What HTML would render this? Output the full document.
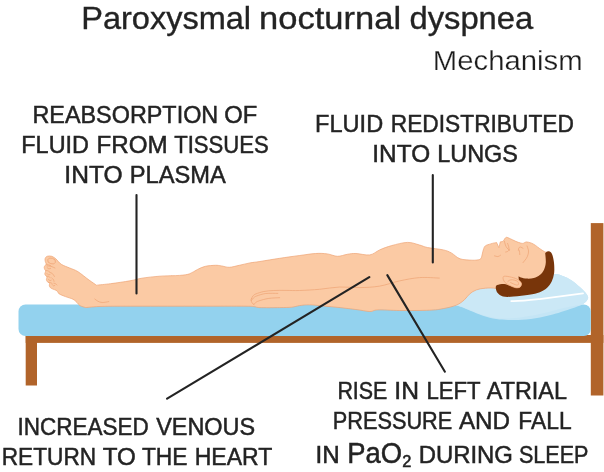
<!DOCTYPE html>
<html>
<head>
<meta charset="utf-8">
<title>Paroxysmal nocturnal dyspnea</title>
<style>
html,body{margin:0;padding:0;background:#fff;}
body{width:604px;height:472px;overflow:hidden;font-family:"Liberation Sans",sans-serif;}
svg{display:block;}
text{filter:grayscale(1);}
text{font-family:"Liberation Sans",sans-serif;fill:#232323;stroke:#232323;stroke-width:0.5;stroke-linejoin:miter;}
</style>
</head>
<body>
<svg width="604" height="472" viewBox="0 0 604 472">
<rect width="604" height="472" fill="#fff"/>

<!-- bed frame -->
<g fill="#b1642a">
<rect x="25.7" y="335" width="577.7" height="7.9"/>
<rect x="25.7" y="335" width="11.3" height="50.5"/>
<rect x="590.8" y="223.1" width="12.6" height="172.4"/>
</g>
<!-- mattress -->
<rect x="18.5" y="304.5" width="572.3" height="31.6" rx="7" ry="7" fill="#93d2ee"/>

<!-- pillow -->
<path d="M452.0,308.0 C453.7,306.7 458.0,303.0 462.0,300.0 C466.0,297.0 469.7,292.8 476.0,290.0 C482.3,287.2 491.0,285.2 500.0,283.0 C509.0,280.8 521.0,278.5 530.0,277.0 C539.0,275.5 548.6,274.1 554.1,273.9 C559.6,273.7 560.0,274.9 562.9,276.0 C565.8,277.1 568.6,278.4 571.4,280.2 C574.2,282.0 577.6,285.0 579.9,287.0 C582.2,289.0 583.7,290.5 585.0,292.1 C586.3,293.7 587.4,295.2 587.9,296.4 C588.4,297.6 588.2,298.3 587.7,299.3 C587.2,300.3 586.2,301.7 585.1,302.6 C584.0,303.5 583.3,304.0 581.2,304.9 C579.1,305.8 575.7,307.1 572.6,308.2 C569.5,309.3 565.4,310.6 562.6,311.5 C559.8,312.4 559.8,312.5 556.0,313.5 C552.2,314.5 545.7,316.3 540.0,317.4 C534.3,318.4 527.3,319.4 522.0,319.8 C516.7,320.2 512.3,320.0 508.0,319.9 C503.7,319.8 500.4,319.7 496.2,319.0 C492.0,318.3 487.4,317.1 483.0,315.7 C478.6,314.3 474.0,312.0 469.7,310.4 C465.4,308.8 460.1,306.2 457.2,305.8 C454.2,305.4 452.9,307.6 452.0,308.0 Z" fill="#c4e5f5"/>
<path d="M452.0,307.0 C453.7,305.8 458.0,302.8 462.0,300.0 C466.0,297.2 469.7,292.8 476.0,290.0 C482.3,287.2 491.0,285.2 500.0,283.0 C509.0,280.8 521.0,278.5 530.0,277.0 C539.0,275.5 548.6,274.1 554.1,273.9 C559.6,273.7 560.0,274.9 562.9,276.0 C565.8,277.1 568.6,278.4 571.4,280.2 C574.2,282.0 577.6,285.0 579.9,287.0 C582.2,289.0 583.7,290.5 585.0,292.1 C586.3,293.7 587.4,295.2 587.9,296.4 C588.4,297.6 588.2,298.3 587.7,299.3 C587.2,300.3 586.2,301.7 585.1,302.6 C584.0,303.5 582.7,304.4 581.2,304.9 C579.7,305.4 578.5,305.2 575.9,305.6 C573.3,306.1 569.2,306.9 565.9,307.6 C562.6,308.3 560.3,308.8 556.0,309.9 C551.7,311.0 545.7,312.8 540.0,314.0 C534.3,315.2 527.3,316.5 522.0,317.2 C516.7,317.9 512.3,318.3 508.0,318.4 C503.7,318.5 500.4,318.6 496.2,318.0 C492.0,317.4 487.4,316.4 483.0,315.0 C478.6,313.6 474.0,311.5 469.7,309.9 C465.4,308.3 460.1,305.9 457.2,305.4 C454.2,304.9 452.9,306.7 452.0,307.0 Z" fill="#cbe8f6"/>
<path d="M511.3,301.1 C520,301.4 530,300.2 539.5,299.1 C553,297.4 567,295.6 583,293.4" fill="none" stroke="#fff" stroke-width="1.8" stroke-linecap="round"/>

<!-- body -->
<path d="M45.6,257.6 C46.0,257.0 46.5,256.4 47.5,256.2 C48.5,256.0 50.4,255.8 51.8,256.3 C53.2,256.8 54.4,257.7 56.0,259.0 C57.6,260.3 59.0,262.8 61.3,264.3 C63.6,265.8 66.9,266.8 69.7,268.0 C72.5,269.2 74.8,269.7 78.0,271.7 C81.2,273.7 85.9,277.8 89.0,280.0 C92.1,282.2 95.2,284.3 96.4,285.2 C98.8,284.9 104.9,284.4 110.5,283.7 C116.1,283.0 124.8,281.7 130.0,280.8 C135.2,279.9 136.9,279.0 141.9,278.2 C146.9,277.4 153.5,276.7 159.8,276.2 C166.1,275.7 174.7,275.8 179.7,275.4 C184.7,275.0 186.6,274.8 189.6,273.8 C192.6,272.8 194.9,270.6 197.6,269.4 C200.2,268.1 202.5,267.0 205.5,266.3 C208.5,265.6 212.8,265.4 215.4,265.3 C218.1,265.2 219.1,265.6 221.4,265.9 C223.7,266.2 226.3,267.4 229.3,267.3 C232.3,267.2 235.9,266.0 239.3,265.3 C242.8,264.6 246.6,263.5 250.0,262.9 C253.4,262.3 254.9,262.3 259.9,261.5 C264.8,260.7 273.1,259.3 279.7,258.3 C286.3,257.3 293.6,256.3 299.6,255.5 C305.6,254.7 310.9,253.8 315.5,253.5 C320.1,253.2 323.8,253.4 327.4,253.9 C331.0,254.4 334.1,256.2 337.4,256.3 C340.7,256.4 344.2,254.8 347.3,254.3 C350.4,253.8 352.1,253.4 355.9,253.5 C359.6,253.6 365.8,255.5 369.8,254.9 C373.8,254.3 376.1,251.5 379.7,249.9 C383.3,248.3 387.0,246.8 391.7,245.6 C396.4,244.3 403.0,242.5 407.6,242.4 C412.2,242.3 416.2,244.2 419.5,245.0 C422.8,245.8 423.4,246.7 427.4,247.5 C431.4,248.3 439.3,249.0 443.3,249.9 C447.3,250.8 448.5,251.4 451.3,252.9 C454.1,254.4 456.6,257.6 460.0,258.8 C463.4,260.0 468.8,260.0 471.9,260.2 C475.0,260.4 477.7,259.9 478.9,259.8 C479.3,259.5 480.6,259.4 481.3,257.8 C482.0,256.2 482.6,251.9 483.3,249.9 C484.0,247.9 484.1,246.9 485.3,245.9 C486.5,244.9 489.1,244.4 490.6,243.9 C492.1,243.4 493.5,243.1 494.5,242.9 C495.5,242.7 496.2,242.6 496.6,242.5 C497.0,243.3 498.5,246.8 498.9,247.6 C499.1,246.7 500.1,242.8 500.3,241.9 C500.6,241.8 501.6,241.8 502.2,241.6 C502.8,241.3 503.4,240.9 503.8,240.4 C504.2,239.9 504.4,239.1 504.8,238.6 C505.2,238.1 505.8,237.4 506.5,237.3 C507.2,237.2 508.1,237.8 509.1,238.2 C510.1,238.6 511.4,239.3 512.5,239.8 C513.6,240.3 514.3,240.7 515.7,241.3 C517.1,241.9 519.7,242.9 521.0,243.2 C522.3,243.5 522.7,243.4 523.6,243.2 C524.5,243.0 525.0,241.9 526.3,241.9 C527.6,241.9 530.1,242.6 531.6,243.2 C533.1,243.8 534.2,244.5 535.5,245.4 C536.8,246.3 538.0,247.4 539.6,248.5 C541.2,249.6 543.5,251.2 544.9,251.9 C546.3,252.7 547.0,251.3 548.0,253.0 C549.0,254.7 550.7,258.2 551.0,262.0 C551.3,265.8 551.8,272.0 550.0,276.0 C548.2,280.0 545.0,283.3 540.0,286.0 C535.0,288.7 526.2,291.2 520.0,292.0 C513.8,292.8 507.0,291.6 503.0,291.0 C499.0,290.4 498.7,288.9 495.8,288.4 C492.9,287.9 488.8,287.9 485.6,288.2 C482.4,288.4 479.0,288.9 476.4,289.9 C473.8,290.8 471.7,292.2 469.7,293.9 C467.7,295.5 466.6,297.9 464.4,299.8 C462.2,301.7 460.0,303.6 456.5,305.1 C453.0,306.6 447.7,307.8 443.2,308.6 C438.7,309.5 436.7,309.9 429.4,310.2 C422.1,310.5 408.2,310.6 399.6,310.5 C391.0,310.4 382.7,309.7 377.7,309.9 C372.7,310.1 373.4,311.6 369.8,311.5 C366.2,311.4 360.9,310.1 355.9,309.5 C350.9,308.9 345.4,308.2 340.0,307.6 C334.6,307.0 328.5,306.5 323.4,306.0 C318.3,305.5 313.5,304.9 309.5,304.8 C305.5,304.7 302.6,305.2 299.6,305.6 C296.6,306.0 295.0,306.9 291.7,307.2 C288.4,307.5 285.0,307.5 279.7,307.6 C274.4,307.7 264.2,307.8 259.9,307.6 C255.6,307.4 256.4,306.8 253.9,306.6 C251.4,306.4 254.0,306.3 245.0,306.2 C236.0,306.1 218.2,306.2 200.0,306.2 C181.8,306.2 152.3,306.2 136.0,306.2 C119.7,306.2 110.4,306.2 102.0,306.4 C93.6,306.6 88.4,307.4 85.7,307.6 C84.7,307.3 81.4,306.5 79.9,305.6 C78.5,304.8 78.2,303.6 77.0,302.5 C75.8,301.4 74.8,300.2 72.9,299.2 C71.0,298.2 67.8,297.5 65.5,296.6 C63.2,295.7 60.6,294.8 59.2,293.9 C57.8,292.9 58.2,291.8 57.0,290.9 C55.8,290.0 53.0,289.2 51.8,288.6 C50.6,288.0 50.3,287.6 49.9,287.0 C49.5,286.4 49.3,285.8 49.3,285.2 C49.2,284.6 49.7,283.9 49.6,283.4 C49.5,282.9 49.0,282.7 48.6,282.4 C48.2,282.1 47.6,282.1 47.2,281.6 C46.8,281.1 46.5,280.3 46.4,279.6 C46.3,278.9 46.9,278.2 46.9,277.6 C46.9,277.0 46.8,276.5 46.6,276.2 C46.4,275.9 45.9,276.0 45.6,275.6 C45.3,275.2 44.8,274.4 44.8,273.8 C44.8,273.2 45.4,272.4 45.5,271.8 C45.6,271.2 45.7,270.8 45.6,270.4 C45.5,270.0 45.0,270.1 44.8,269.6 C44.6,269.1 44.2,268.2 44.2,267.5 C44.2,266.8 44.5,266.2 44.9,265.6 C45.2,265.1 46.2,264.8 46.3,264.2 C46.4,263.6 45.6,262.6 45.4,261.8 C45.2,261.0 45.0,260.3 45.0,259.6 C45.0,258.9 45.2,258.2 45.6,257.6 Z" fill="#fbcaa4" stroke="#eea374" stroke-width="0.7" stroke-linejoin="round"/>
<!-- hair + ear -->
<path d="M545.2,253.1 C545.7,252.8 547.1,251.3 548.1,251.2 C549.1,251.1 550.3,251.5 551.1,252.4 C551.9,253.3 552.4,254.8 552.9,256.7 C553.4,258.6 553.9,261.0 554.1,263.8 C554.3,266.6 554.5,270.3 554.1,273.3 C553.7,276.3 552.9,279.1 551.7,281.6 C550.5,284.1 548.9,286.3 546.9,288.1 C544.9,289.9 542.8,291.2 539.8,292.3 C536.8,293.4 533.5,294.1 529.1,294.8 C524.8,295.5 518.1,296.3 513.7,296.6 C509.4,296.9 505.7,297.1 503.0,296.5 C500.3,295.9 498.9,294.5 497.7,293.1 C496.5,291.7 495.9,289.6 495.8,288.3 C495.7,287.0 495.7,285.8 497.1,285.1 C498.5,284.4 502.0,283.9 504.2,284.0 C506.4,284.1 508.2,285.1 510.2,285.7 C512.2,286.3 514.4,287.7 516.1,287.9 C517.8,288.1 519.5,287.6 520.4,286.9 C521.3,286.1 521.7,284.5 521.5,283.4 C521.3,282.3 519.6,281.6 519.1,280.4 C518.6,279.2 518.6,276.9 518.5,276.2 C518.9,276.4 519.4,277.0 520.8,277.4 C522.2,277.8 524.6,278.5 526.8,278.6 C529.0,278.7 531.7,278.6 533.9,278.0 C536.1,277.4 538.1,276.5 539.8,275.1 C541.5,273.7 543.0,271.8 544.0,269.7 C545.0,267.6 545.6,265.4 545.8,262.6 C546.0,259.8 545.3,254.7 545.2,253.1 Z" fill="#78350a"/>
<path d="M503.0,277.6 C503.1,276.6 503.6,276.2 505.4,276.2 C507.2,276.2 511.4,277.1 513.7,277.8 C516.0,278.5 517.8,279.5 519.1,280.4 C520.4,281.3 521.2,282.3 521.4,283.4 C521.6,284.5 521.1,286.2 520.2,286.9 C519.3,287.6 517.8,288.0 516.1,287.8 C514.4,287.6 512.1,286.6 510.2,285.7 C508.3,284.8 506.0,283.5 504.8,282.2 C503.6,280.9 502.9,278.6 503.0,277.6 Z" fill="#fbcaa4" stroke="#eea374" stroke-width="0.7"/>
<!-- skin detail lines -->
<path d="M251.4,298.9 C251.7,298.4 252.2,296.7 253.0,295.9 C253.8,295.1 254.1,294.6 255.9,293.9 C257.7,293.2 260.9,292.1 263.9,291.5 C266.9,290.9 270.1,290.7 273.8,290.5 C277.5,290.3 281.7,290.4 286.0,290.4 C290.3,290.4 294.0,290.7 299.6,290.5 C305.2,290.3 312.8,289.9 319.5,289.3 C326.2,288.7 332.9,287.3 339.6,287.0 C346.3,286.7 353.2,287.8 359.9,287.6 C366.6,287.5 373.1,287.2 379.7,286.1 C386.3,285.0 393.0,282.3 399.6,280.9 C406.2,279.5 412.9,278.1 419.5,277.6 C426.1,277.1 436.0,278.0 439.3,278.1" fill="none" stroke="#eea374" stroke-width="0.7" stroke-linecap="round"/>
<path d="M251.4,300.6 C251.8,300.2 252.6,298.7 253.5,297.9 C254.4,297.1 254.8,296.6 256.9,295.9 C258.9,295.2 262.3,293.9 265.8,293.5 C269.3,293.1 275.8,293.4 277.8,293.4" fill="none" stroke="#eea374" stroke-width="0.7" stroke-linecap="round"/>
<path d="M253.9,304.6 C254.2,304.3 254.8,303.2 255.6,302.6 C256.4,302.0 256.7,301.6 258.9,300.9 C261.1,300.2 265.3,298.9 268.8,298.4 C272.3,297.9 277.9,297.8 279.7,297.7" fill="none" stroke="#eea374" stroke-width="0.7" stroke-linecap="round"/>
<path d="M251.4,298.9 C251.3,299.2 251.0,299.9 251.1,300.6 C251.2,301.3 251.7,302.3 252.2,303.0 C252.7,303.7 253.6,304.3 253.9,304.6" fill="none" stroke="#eea374" stroke-width="0.7" stroke-linecap="round"/>
<path d="M94.8,299.0 C95.3,299.4 96.8,300.7 98.0,301.3 C99.2,301.9 100.4,302.4 102.2,302.5 C104.0,302.6 107.7,301.8 108.8,301.6" fill="none" stroke="#eea374" stroke-width="0.7" stroke-linecap="round"/>
<ellipse cx="51.6" cy="261" rx="4" ry="2.8" transform="rotate(18 51.6 261)" fill="none" stroke="#eea374" stroke-width="0.7"/>
<path d="M46.3,264.2 C46.7,264.3 47.9,264.7 48.6,264.9 C49.3,265.1 50.2,265.5 50.5,265.6" fill="none" stroke="#eea374" stroke-width="0.7" stroke-linecap="round"/>
<path d="M47.0,265.9 C47.7,266.0 49.7,265.9 51.0,266.3 C52.3,266.7 54.2,267.7 54.9,268.0" fill="none" stroke="#eea374" stroke-width="0.7" stroke-linecap="round"/>
<path d="M47.2,267.6 C47.5,267.8 48.2,268.7 48.8,268.8 C49.4,268.9 50.3,268.5 50.6,268.4" fill="none" stroke="#eea374" stroke-width="0.7" stroke-linecap="round"/>
<path d="M45.6,270.4 C46.0,270.5 47.2,270.6 47.8,270.8 C48.4,271.0 49.0,271.5 49.2,271.6" fill="none" stroke="#eea374" stroke-width="0.7" stroke-linecap="round"/>
<path d="M49.6,272.2 C50.1,272.4 51.6,272.9 52.4,273.6 C53.2,274.3 54.1,276.0 54.4,276.5" fill="none" stroke="#eea374" stroke-width="0.7" stroke-linecap="round"/>
<path d="M47.0,273.6 C47.2,273.8 47.9,274.7 48.4,274.8 C48.9,274.9 49.7,274.5 50.0,274.4" fill="none" stroke="#eea374" stroke-width="0.7" stroke-linecap="round"/>
<path d="M46.6,276.2 C46.9,276.3 48.0,276.4 48.6,276.6 C49.2,276.8 49.9,277.4 50.2,277.6" fill="none" stroke="#eea374" stroke-width="0.7" stroke-linecap="round"/>
<path d="M51.8,278.0 C52.1,278.3 53.0,279.0 53.4,279.6 C53.8,280.2 53.9,281.1 54.0,281.4" fill="none" stroke="#eea374" stroke-width="0.7" stroke-linecap="round"/>
<path d="M48.6,279.4 C48.8,279.6 49.4,280.5 49.8,280.6 C50.2,280.7 51.0,280.3 51.2,280.2" fill="none" stroke="#eea374" stroke-width="0.7" stroke-linecap="round"/>
<path d="M48.6,282.4 C48.9,282.4 49.8,282.4 50.4,282.6 C51.0,282.8 51.7,283.3 52.0,283.4" fill="none" stroke="#eea374" stroke-width="0.7" stroke-linecap="round"/>
<path d="M53.9,283.3 C54.2,283.4 55.1,283.5 55.6,283.8 C56.1,284.1 56.8,284.8 57.0,285.0" fill="none" stroke="#eea374" stroke-width="0.7" stroke-linecap="round"/>
<path d="M52.2,284.6 C52.4,284.8 53.0,285.7 53.4,285.8 C53.8,285.9 54.6,285.5 54.8,285.4" fill="none" stroke="#eea374" stroke-width="0.7" stroke-linecap="round"/>
<path d="M494.5,255.8 C495.1,255.9 496.9,256.7 497.9,256.6 C498.9,256.5 500.1,255.4 500.5,255.2" fill="none" stroke="#eea374" stroke-width="0.7" stroke-linecap="round"/>
<path d="M504.4,241.2 C504.6,241.8 505.0,243.9 505.4,245.0 C505.8,246.1 506.4,247.2 507.0,248.0 C507.6,248.8 508.8,249.7 509.2,250.0" fill="none" stroke="#eea374" stroke-width="0.7" stroke-linecap="round"/>
<path d="M509.2,250.0 C508.9,250.3 508.0,251.3 507.4,251.6 C506.8,251.9 505.9,251.9 505.6,252.0" fill="none" stroke="#eea374" stroke-width="0.7" stroke-linecap="round"/>
<path d="M509.2,250.0 C509.1,249.4 508.9,247.6 508.6,246.5 C508.3,245.4 507.8,243.9 507.6,243.4" fill="none" stroke="#eea374" stroke-width="0.7" stroke-linecap="round"/>
<path d="M518.4,250.2 C518.5,249.8 518.5,248.5 518.8,248.0 C519.1,247.5 519.7,246.9 520.4,247.0 C521.1,247.1 522.6,248.1 523.0,248.3" fill="none" stroke="#eea374" stroke-width="0.7" stroke-linecap="round"/>
<path d="M519.0,250.0 C519.1,250.4 519.5,251.6 519.6,252.4 C519.7,253.2 519.8,254.2 519.8,254.6" fill="none" stroke="#eea374" stroke-width="0.7" stroke-linecap="round"/>
<path d="M527.0,245.9 C527.2,246.6 528.2,248.7 528.4,250.0 C528.6,251.3 528.6,252.6 528.2,254.0 C527.9,255.4 527.2,257.1 526.3,258.5 C525.4,259.9 523.5,261.9 523.0,262.6" fill="none" stroke="#eea374" stroke-width="0.7" stroke-linecap="round"/>
<path d="M507.8,281.6 C508.1,281.4 508.8,280.5 509.6,280.2 C510.4,279.9 511.4,279.7 512.5,279.8 C513.6,279.9 515.1,280.3 516.0,280.6 C516.9,280.9 517.5,281.2 517.9,281.8 C518.3,282.4 518.9,283.9 518.6,284.4 C518.4,284.9 517.2,285.1 516.4,285.0 C515.6,284.9 514.7,284.4 513.7,284.0 C512.7,283.6 511.1,282.8 510.6,282.6" fill="none" stroke="#eea374" stroke-width="0.7" stroke-linecap="round"/>

<!-- leader lines -->
<g stroke="#232323" stroke-width="2.1" fill="none" stroke-linecap="round">
<line x1="136.5" y1="195" x2="136.5" y2="293.4"/>
<line x1="432.8" y1="175" x2="432.8" y2="262.5"/>
<line x1="369.3" y1="277.1" x2="167.1" y2="398.7"/>
<line x1="387.3" y1="275.1" x2="444.9" y2="371.7"/>
</g>

<!-- text -->
<g font-size="31.6"><text x="81.23" y="29.1" textLength="169.83" lengthAdjust="spacingAndGlyphs" style="stroke-width:0.35">Paroxysmal</text><text x="259.02" y="29.1" textLength="142.09" lengthAdjust="spacingAndGlyphs" style="stroke-width:0.35">nocturnal</text><text x="409.45" y="29.1" textLength="123.77" lengthAdjust="spacingAndGlyphs" style="stroke-width:0.35">dyspnea</text></g>
<g font-size="27.0"><text x="432.89" y="69.5" textLength="149.75" lengthAdjust="spacingAndGlyphs" style="fill:#1c1c1c;stroke:#fff;stroke-width:0.25">Mechanism</text></g>
<g font-size="24.5"><text x="32.42" y="123.15" textLength="185.83" lengthAdjust="spacingAndGlyphs">REABSORPTION</text><text x="224.34" y="123.15" textLength="32.99" lengthAdjust="spacingAndGlyphs">OF</text></g>
<g font-size="24.5"><text x="21.32" y="153.15" textLength="67.64" lengthAdjust="spacingAndGlyphs">FLUID</text><text x="96.56" y="153.15" textLength="71.12" lengthAdjust="spacingAndGlyphs">FROM</text><text x="174.20" y="153.15" textLength="94.57" lengthAdjust="spacingAndGlyphs">TISSUES</text></g>
<g font-size="24.5"><text x="64.33" y="183.3" textLength="58.29" lengthAdjust="spacingAndGlyphs">INTO</text><text x="129.80" y="183.3" textLength="96.03" lengthAdjust="spacingAndGlyphs">PLASMA</text></g>
<g font-size="24.5"><text x="315.11" y="132.15" textLength="68.06" lengthAdjust="spacingAndGlyphs">FLUID</text><text x="390.77" y="132.15" textLength="183.16" lengthAdjust="spacingAndGlyphs">REDISTRIBUTED</text></g>
<g font-size="24.5"><text x="372.35" y="162.0" textLength="57.76" lengthAdjust="spacingAndGlyphs">INTO</text><text x="437.32" y="162.0" textLength="80.61" lengthAdjust="spacingAndGlyphs">LUNGS</text></g>
<g font-size="24.5"><text x="17.54" y="434.8" textLength="131.29" lengthAdjust="spacingAndGlyphs">INCREASED</text><text x="156.15" y="434.8" textLength="98.98" lengthAdjust="spacingAndGlyphs">VENOUS</text></g>
<g font-size="24.5"><text x="1.78" y="464.65" textLength="94.31" lengthAdjust="spacingAndGlyphs">RETURN</text><text x="102.77" y="464.65" textLength="33.13" lengthAdjust="spacingAndGlyphs">TO</text><text x="141.89" y="464.65" textLength="45.61" lengthAdjust="spacingAndGlyphs">THE</text><text x="194.75" y="464.65" textLength="77.59" lengthAdjust="spacingAndGlyphs">HEART</text></g>
<g font-size="24.5"><text x="337.38" y="398.6" textLength="49.97" lengthAdjust="spacingAndGlyphs">RISE</text><text x="394.33" y="398.6" textLength="24.63" lengthAdjust="spacingAndGlyphs">IN</text><text x="426.42" y="398.6" textLength="54.21" lengthAdjust="spacingAndGlyphs">LEFT</text><text x="486.85" y="398.6" textLength="80.08" lengthAdjust="spacingAndGlyphs">ATRIAL</text></g>
<g font-size="24.5"><text x="332.75" y="428.85" textLength="119.51" lengthAdjust="spacingAndGlyphs">PRESSURE</text><text x="458.95" y="428.85" textLength="51.14" lengthAdjust="spacingAndGlyphs">AND</text><text x="518.37" y="428.85" textLength="53.25" lengthAdjust="spacingAndGlyphs">FALL</text></g>
<g font-size="24.5"><text x="315.56" y="463.05" textLength="24.16" lengthAdjust="spacingAndGlyphs">IN</text><text x="418.68" y="463.05" textLength="94.25" lengthAdjust="spacingAndGlyphs">DURING</text><text x="518.88" y="463.05" textLength="69.58" lengthAdjust="spacingAndGlyphs">SLEEP</text></g>
<g font-size="28.6"><text x="347.31" y="463.0" textLength="54.83" lengthAdjust="spacingAndGlyphs">PaO</text></g>
<g font-size="15.6"><text x="402.18" y="466.8" textLength="9.14" lengthAdjust="spacingAndGlyphs">2</text></g>
</svg>
</body>
</html>
